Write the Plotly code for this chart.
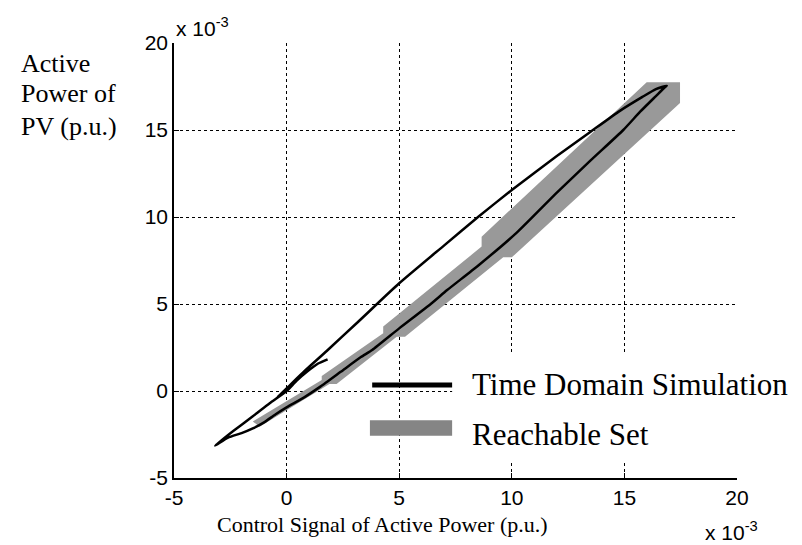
import plotly.graph_objects as go

# Time domain simulation trajectory (units of 1e-3 p.u.)
sim_x = [1.82, 1.4, 0.9, 0.45, 0.0, -0.75, -1.5, -2.37, -3.18,
         -2.6, -2.0, -1.5, -1.0, -0.5, 0.0, 0.8, 1.5, 2.4, 3.3, 3.8, 5.0, 6.4, 7.13, 8.5,
         10.22, 12.0, 13.5, 14.95, 15.7, 16.4, 16.75, 16.88,
         16.4, 15.8, 14.8, 13.5, 12.0, 10.0, 8.5, 7.0, 5.0, 3.18, 1.78, 0.8, 0.0, -0.4]
sim_y = [1.82, 1.58, 1.1, 0.6, 0.0, -0.7, -1.45, -2.3, -3.14,
         -2.68, -2.42, -2.15, -1.8, -1.35, -0.94, -0.35, 0.25, 1.1, 1.95, 2.36, 3.6, 5.0, 5.8, 7.2,
         9.1, 11.4, 13.25, 15.0, 16.05, 16.95, 17.4, 17.55,
         17.35, 16.9, 16.1, 14.9, 13.5, 11.55, 10.0, 8.37, 6.19, 3.98, 2.3, 1.15, 0.15, -0.35]

# Reachable set outline
band_x = [-1.5, 1.56, 1.56, 4.29, 4.29, 8.66, 8.66, 15.99, 17.47, 17.47,
          10.0, 9.62, 5.26, 4.89, 2.22, 1.9, -1.2]
band_y = [-1.75, 0.63, 0.86, 3.32, 3.7, 8.3, 8.87, 17.74, 17.74, 16.55,
          7.68, 7.68, 3.12, 3.12, 0.4, 0.4, -2.05]

tick_vals = [-5, 0, 5, 10, 15, 20]
tick_text = ["-5", "0", "5", "10", "15", "20"]

serif = "Liberation Serif, Times New Roman, serif"
sans = "Liberation Sans, Arial, sans-serif"

fig = go.Figure()
fig.add_trace(go.Scatter(x=band_x + band_x[:1], y=band_y + band_y[:1], fill="toself",
                         fillcolor="#999999", line=dict(width=0), mode="lines",
                         hoverinfo="skip", showlegend=False))
fig.add_trace(go.Scatter(x=sim_x, y=sim_y, mode="lines",
                         line=dict(color="black", width=2.5, shape="spline", smoothing=0.5),
                         showlegend=False))

axis_common = dict(range=[-5, 20], tickvals=tick_vals, ticktext=tick_text,
                   showgrid=True, gridcolor="black", griddash="dot", gridwidth=1,
                   zeroline=False, showline=True, linecolor="black", linewidth=1.5,
                   mirror=False, ticks="inside", ticklen=5, tickcolor="black",
                   tickfont=dict(family=sans, size=21, color="black"))


def label(text, x, y, size, family, anchor="left"):
    return dict(text=text, x=x, y=y, xref="paper", yref="paper", xanchor=anchor,
                yanchor="middle", showarrow=False, font=dict(family=family, size=size, color="black"))


# the page body adds an 8px margin, so the figure is 8px smaller than the window
fig.update_layout(
    width=794, height=537,
    margin=dict(l=166, r=65, t=35, b=67),
    plot_bgcolor="white", paper_bgcolor="white",
    xaxis=axis_common,
    yaxis=axis_common,
    shapes=[
        # legend background hides the grid behind the texts
        dict(type="rect", xref="paper", yref="paper", x0=0.494, x1=1.2, y0=0.037, y1=0.283,
             fillcolor="white", line=dict(width=0), layer="above"),
        dict(type="line", xref="paper", yref="paper", x0=0.352, x1=0.494, y0=0.214, y1=0.214,
             line=dict(color="black", width=5), layer="above"),
        dict(type="rect", xref="paper", yref="paper", x0=0.348, x1=0.494, y0=0.097, y1=0.133,
             fillcolor="#858585", line=dict(width=0), layer="above"),
    ],
    annotations=[
        label("Time Domain Simulation", 0.526, 0.214, 31, serif),
        label("Reachable Set", 0.526, 0.099, 31, serif),
        label("Control Signal of Active Power (p.u.)", 0.371, -0.106, 22, serif, "center"),
        label("Active", -0.275, 0.954, 26, serif),
        label("Power of", -0.275, 0.885, 26, serif),
        label("PV (p.u.)", -0.275, 0.807, 26, serif),
        label("x 10<sup>-3</sup>", 0.0, 1.037, 21, sans),
        label("x 10<sup>-3</sup>", 0.94, -0.122, 21, sans),
    ],
)

fig.write_html("out.html")
